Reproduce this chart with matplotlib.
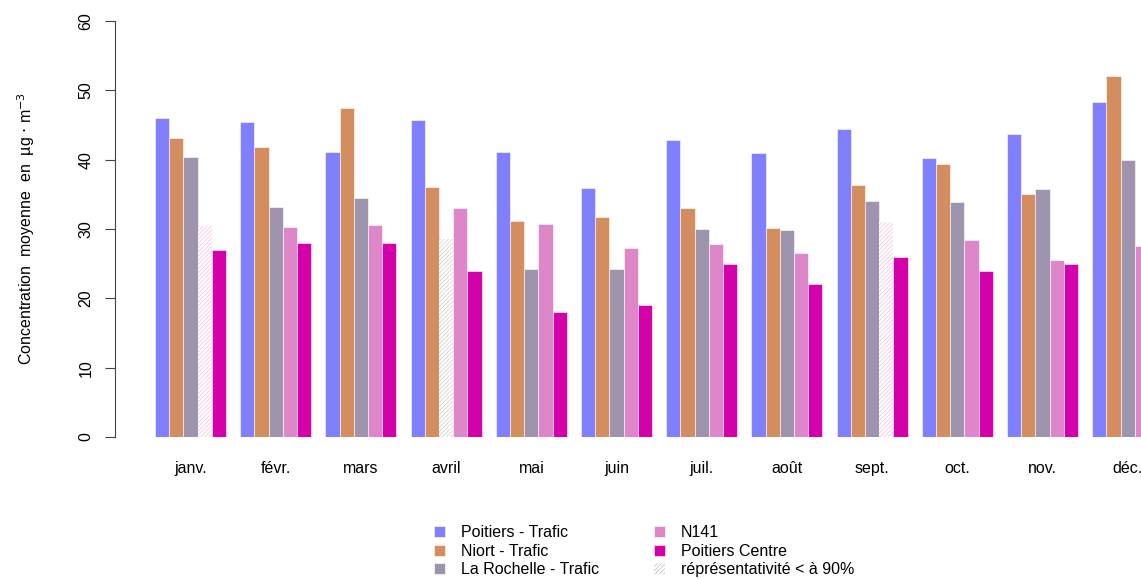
import matplotlib
matplotlib.use('Agg')
import matplotlib.pyplot as plt
from matplotlib.patches import Patch
import numpy as np

plt.rcParams['font.family'] = ['Liberation Sans', 'DejaVu Sans']
plt.rcParams['hatch.linewidth'] = 0.5

#************************DATA************************
months = ['janv.', 'févr.', 'mars', 'avril', 'mai', 'juin',
          'juil.', 'août', 'sept.', 'oct.', 'nov.', 'déc.']
stations = ['Poitiers - Trafic', 'Niort - Trafic', 'La Rochelle - Trafic',
            'N141', 'Poitiers Centre']
poitiersTrafic = [46.0, 45.4, 41.1, 45.7, 41.1, 35.9, 42.8, 40.9, 44.4, 40.2, 43.7, 48.3]
niortTrafic = [43.1, 41.8, 47.5, 36.0, 31.1, 31.7, 33.1, 30.2, 36.4, 39.4, 35.0, 52.0]
laRochelleTrafic = [40.4, 33.2, 34.5, 28.6, 24.3, 24.3, 30.0, 29.8, 34.0, 33.9, 35.7, 39.9]
n141 = [30.4, 30.3, 30.6, 33.1, 30.7, 27.2, 27.9, 26.6, 31.0, 28.4, 25.6, 27.5]
poitiersCentre = [27.0, 28.0, 28.0, 24.0, 18.0, 19.0, 25.0, 22.0, 26.0, 24.0, 25.0, 28.0]
# (station index, month index) with representativity < 90%
lowRepr = [(3, 0), (2, 3), (3, 8)]

#************************STYLE************************
colorPalette = ['#8080FF', '#D38D5F', '#9F94AD', '#DE87C8', '#D400AA']
hatchColors = ['#C8C8FF', '#EBC8B0', '#C8C8C8', '#F0BEE4', '#EE88D8']
pxPerUnit = 14.2
fontSize = 11.5

#************************PLOT************************
fig = plt.figure(figsize=(11.41, 5.79), dpi=100)
W, H = 1141, 579
ax = fig.add_axes([115 / W, 142 / H, 1 - 115 / W, 416 / H])

series = [poitiersTrafic, niortTrafic, laRochelleTrafic, n141, poitiersCentre]
for s, values in enumerate(series):
    for m, v in enumerate(values):
        x = m * 6 + 1 + s
        if (s, m) in lowRepr:
            hc = '#C8C8C8' if s == 2 else hatchColors[s]
            ax.bar(x, v, width=1, align='edge', facecolor='white',
                   edgecolor=hc, hatch='////////', linewidth=0)
        else:
            ax.bar(x, v, width=1, align='edge', color=colorPalette[s],
                   edgecolor='white', linewidth=0.4)

ax.set_xlim(1 - 40 / pxPerUnit, 1 + 986 / pxPerUnit)
ax.set_ylim(0, 60)
for side in ['top', 'right', 'bottom']:
    ax.spines[side].set_visible(False)
ax.spines['left'].set_bounds(0, 60)
ax.spines['left'].set_color('#444444')
ax.set_yticks(np.arange(0, 61, 10))
ax.tick_params(axis='y', length=7, color='#444444', labelsize=fontSize, pad=14)
for lab in ax.get_yticklabels():
    lab.set_rotation(90)
    lab.set_va('center')
    lab.set_ha('center')
ax.set_xticks([m * 6 + 3.5 for m in range(len(months))])
ax.set_xticklabels(months, fontsize=fontSize)
ax.tick_params(axis='x', length=0, pad=17)
ax.set_ylabel(r'Concentration  moyenne  en  µg $\cdot$ m$^{-3}$', fontsize=fontSize, labelpad=30)

handles = [Patch(facecolor=c, edgecolor='white', linewidth=0.4) for c in colorPalette]
handles.append(Patch(facecolor='white', edgecolor='#BBBBBB', hatch='////////', linewidth=0))
labels = stations + ['réprésentativité < à 90%']
fig.legend(handles, labels, ncol=2, loc='upper left',
           bbox_to_anchor=(423 / W, 1 - 514 / H), frameon=False,
           fontsize=fontSize, handlelength=0.7, handleheight=0.7,
           handletextpad=1.0, columnspacing=3.4, labelspacing=0.22,
           borderpad=0.2)

fig.savefig('out.png', dpi=100)
